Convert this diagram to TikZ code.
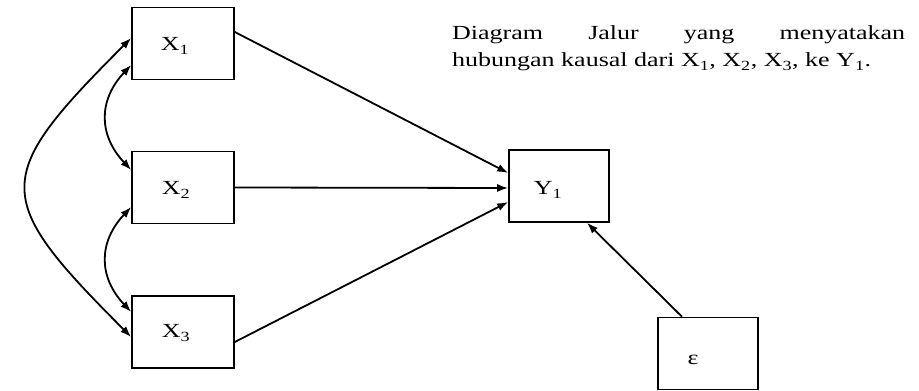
\documentclass[tikz,border=0pt]{standalone}
\usepackage{fontspec}
\setmainfont[FakeStretch=1.3]{Liberation Serif}
\usetikzlibrary{arrows.meta}
\begin{document}
\begin{tikzpicture}[x=1pt,y=1pt,
  box/.style={draw, line width=1.6pt, minimum width=102pt, minimum height=72pt, inner sep=0pt},
  lbl/.style={font=\fontsize{20}{24}\selectfont, inner sep=0pt},
  txt/.style={font=\fontsize{20}{24}\selectfont, inner sep=0pt, anchor=base west},
  tip/.tip={Latex[length=11pt,width=8pt]},
  arr/.style={line width=1.8pt, -tip},
  darr/.style={line width=1.8pt, tip-tip}]
\useasboundingbox (0,0) rectangle (919,391);
% boxes
\node[box] (X1) at (183,347.5) {};
\node[box] (X2) at (183,203.5) {};
\node[box] (X3) at (183,59) {};
\node[box, minimum width=100pt] (Y1) at (559,205) {};
\node[box, minimum width=100pt] (E) at (708,37.5) {};
% labels
\node[lbl] (lX1) at (175,345) {X\textsubscript{1}};
\node[lbl] (lX2) at (176,201) {X\textsubscript{2}};
\node[lbl] (lX3) at (176,58) {X\textsubscript{3}};
\node[lbl] (lY1) at (548,201) {Y\textsubscript{1}};
\node[lbl] (lE) at (693,31) {ε};
% caption
\node[txt] (t1) at (452,351) {\hbox to 453pt{Diagram\hfill Jalur\hfill yang\hfill menyatakan}};
\node[txt] (t2) at (452,324) {hubungan kausal dari X\textsubscript{1}, X\textsubscript{2}, X\textsubscript{3}, ke Y\textsubscript{1}.};
% straight arrows
\draw[arr] ([yshift=11.5pt]X1.east) -- ([yshift=13pt]Y1.west);
\draw[arr] (X2.east) -- ([yshift=-2pt]Y1.west);
\draw[arr] ([yshift=-10pt]X3.east) -- ([yshift=-16pt]Y1.west);
\draw[arr] ([xshift=-26pt]E.north) -- ([xshift=28pt]Y1.south);
% curved double arrows
\draw[darr] ([yshift=5.5pt]X1.west) .. controls +(-140,-140) and +(-140,140) .. ([yshift=-5pt]X3.west);
\draw[darr] ([yshift=-21.5pt]X1.west) .. controls +(-33,-35) and +(-33,35) .. ([yshift=17.5pt]X2.west);
\draw[darr] ([yshift=-19.5pt]X2.west) .. controls +(-33,-35) and +(-33,35) .. ([yshift=20pt]X3.west);
\end{tikzpicture}
\end{document}
